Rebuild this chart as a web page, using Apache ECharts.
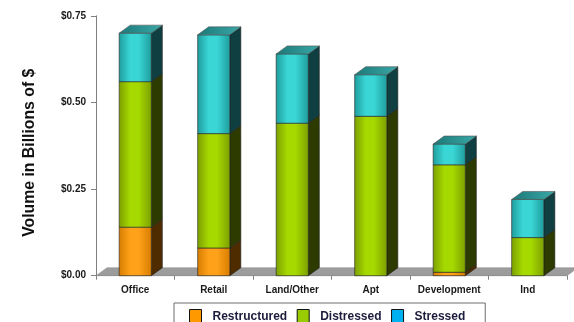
<!DOCTYPE html>
<html>
<head>
<meta charset="utf-8">
<script src="https://cdn.jsdelivr.net/npm/echarts@6/dist/echarts.min.js"></script>
<style>
  html, body { margin: 0; padding: 0; background: #fff; }
  #chart { width: 574px; height: 322px; }
</style>
</head>
<body>
<div id="chart"></div>
<script>
// Loan volume by property type, stacked by workout status (billions of $)
const categories   = ['Office', 'Retail', 'Land/Other', 'Apt', 'Development', 'Ind'];
const restructured = [0.14, 0.08, 0.00, 0.00, 0.01, 0.00];
const distressed   = [0.42, 0.33, 0.44, 0.46, 0.31, 0.11];
const stressed     = [0.14, 0.285, 0.20, 0.12, 0.06, 0.11];
const yTicks       = [0, 0.25, 0.50, 0.75];
const seriesNames  = ['Restructured', 'Distressed', 'Stressed'];

// Colour sets for the pseudo-3D boxes: front (edge / centre), side, top
const palettes = [
  { edge: '#d67c00', mid: '#ffa21a', side: '#4e2c00', top0: '#b06400', top1: '#e08a10', legend: '#FF9900' },
  { edge: '#7c9f00', mid: '#a6d900', side: '#2d3a00', top0: '#5f7a00', top1: '#8fb300', legend: '#99CC00' },
  { edge: '#1f9c9c', mid: '#3ad6d6', side: '#0f3f40', top0: '#1c7878', top1: '#3aa8a8', legend: '#00B0F0' }
];

const DX = 11;   // depth offset to the right
const DY = 8;    // depth offset upwards

const stacks = [restructured, distressed, stressed];

// Build [category, base, top, isTopmost] rows for each stack level
function buildRows(level) {
  return categories.map(function (c, i) {
    let base = 0;
    for (let k = 0; k < level; k++) base += stacks[k][i];
    const top = base + stacks[level][i];
    let topmost = 1;
    for (let k = level + 1; k < stacks.length; k++) if (stacks[k][i] > 0) topmost = 0;
    return [i, base, top, topmost];
  });
}

function makeRender(pal) {
  return function (params, api) {
    const ci = api.value(0), lo = api.value(1), hi = api.value(2), isTop = api.value(3);
    if (!(hi > lo)) return null;
    const pLo = api.coord([ci, lo]);
    const pHi = api.coord([ci, hi]);
    const band = api.size([1, 0])[0];
    const w = band * 0.41;
    const xL = pLo[0] - w / 2, xR = xL + w;
    const yB = pLo[1], yT = pHi[1];
    const children = [
      {
        type: 'polygon',
        shape: { points: [[xR, yB], [xR + DX, yB - DY], [xR + DX, yT - DY], [xR, yT]] },
        style: { fill: pal.side, stroke: '#1e1e1e', lineWidth: 0.6 }
      },
      {
        type: 'rect',
        shape: { x: xL, y: yT, width: w, height: yB - yT },
        style: {
          fill: new echarts.graphic.LinearGradient(0, 0, 1, 0, [
            { offset: 0, color: pal.edge },
            { offset: 0.35, color: pal.mid },
            { offset: 0.6, color: pal.mid },
            { offset: 1, color: pal.edge }
          ]),
          stroke: '#222', lineWidth: 0.6
        }
      }
    ];
    if (isTop) {
      children.push({
        type: 'polygon',
        shape: { points: [[xL, yT], [xL + DX, yT - DY], [xR + DX, yT - DY], [xR, yT]] },
        style: {
          fill: new echarts.graphic.LinearGradient(0, 0, 1, 0, [
            { offset: 0, color: pal.top0 },
            { offset: 1, color: pal.top1 }
          ]),
          stroke: '#555', lineWidth: 0.6
        }
      });
    }
    return { type: 'group', children: children };
  };
}

const series = [
  {
    // grey floor under the bars
    type: 'custom',
    name: 'floor',
    silent: true,
    z: 1,
    data: [[0]],
    renderItem: function (params) {
      const cs = params.coordSys;
      const yb = cs.y + cs.height;
      return {
        type: 'polygon',
        shape: { points: [[cs.x, yb], [cs.x + DX, yb - DY], [cs.x + cs.width + DX, yb - DY], [cs.x + cs.width, yb]] },
        style: { fill: '#9c9c9c', stroke: '#8a8a8a', lineWidth: 0.5 }
      };
    }
  }
];
seriesNames.forEach(function (name, level) {
  series.push({
    type: 'custom',
    name: name,
    z: 3,
    clip: false,
    itemStyle: { color: palettes[level].legend },
    data: buildRows(level),
    encode: { x: 0, y: [1, 2] },
    renderItem: makeRender(palettes[level])
  });
});

const chart = echarts.init(document.getElementById('chart'), null, { renderer: 'canvas' });
chart.setOption({
  animation: false,
  backgroundColor: '#ffffff',
  grid: { left: 96, right: 7, top: 15.8, bottom: 46.3 },
  xAxis: {
    type: 'category',
    data: categories,
    boundaryGap: true,
    axisLine: { lineStyle: { color: '#808080', width: 1 } },
    axisTick: { show: true, length: 4, inside: false, lineStyle: { color: '#808080' } },
    axisLabel: { interval: 0, margin: 10, fontFamily: 'Liberation Sans, Arial', fontWeight: 'bold', fontSize: 10, color: '#1a1a1a' },
    splitLine: { show: false }
  },
  yAxis: {
    type: 'value',
    min: 0, max: 0.75, interval: 0.25,
    name: 'Volume in Billions of $',
    nameLocation: 'middle',
    nameGap: 58,
    nameTextStyle: { fontFamily: 'Liberation Sans, Arial', fontWeight: 'bold', fontSize: 15.8, color: '#111', padding: [0, 14, 0, 0] },
    axisLine: { show: true, lineStyle: { color: '#808080', width: 1 } },
    axisTick: { show: true, length: 5, lineStyle: { color: '#808080' } },
    axisLabel: {
      margin: 10,
      fontFamily: 'Liberation Sans, Arial', fontWeight: 'bold', fontSize: 10, color: '#1a1a1a',
      formatter: function (v) {
        const t = yTicks.find(function (k) { return Math.abs(k - v) < 1e-9; });
        return t === undefined ? '' : '$' + t.toFixed(2);
      }
    },
    splitLine: { show: false }
  },
  legend: {
    left: 174, top: 303,
    padding: [6, 20, 6, 15],
    itemGap: 9.5,
    itemWidth: 12, itemHeight: 15,
    borderColor: '#6f6f6f', borderWidth: 1,
    selectedMode: false,
    textStyle: { fontFamily: 'Liberation Sans, Arial', fontWeight: 'bold', fontSize: 12, color: '#1c1c3c', padding: [0, 0, 0, 6] },
    data: seriesNames.map(function (n, i) {
      return { name: n, icon: 'rect', itemStyle: { color: palettes[i].legend, borderColor: '#111', borderWidth: 1 } };
    })
  },
  series: series
});
</script>
</body>
</html>
